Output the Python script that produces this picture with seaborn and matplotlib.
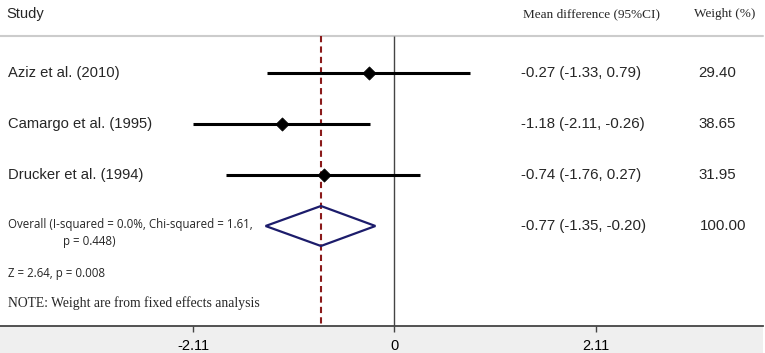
import numpy as np
import pandas as pd
import matplotlib
matplotlib.use("Agg")
import matplotlib.pyplot as plt
import seaborn as sns
from matplotlib.patches import Polygon, Rectangle
from matplotlib.transforms import blended_transform_factory

# DATA ===========================================================================================================

studies = ["Aziz et al. (2010)", "Camargo et al. (1995)", "Drucker et al. (1994)"]
mean_diff = [-0.27, -1.18, -0.74]
ci_low = [-1.33, -2.11, -1.76]
ci_high = [0.79, -0.26, 0.27]
weights = ["29.40", "38.65", "31.95"]
overall_md = -0.77
overall_low = -1.35
overall_high = -0.20
overall_weight = "100.00"
overall_label = "Overall (I-squared = 0.0%, Chi-squared = 1.61,"
overall_label2 = "p = 0.448)"
z_label = "Z = 2.64, p = 0.008"
note_label = "NOTE: Weight are from fixed effects analysis"
x_ticks = [-2.11, 0, 2.11]
x_ticklabels = ["-2.11", "0", "2.11"]

df = pd.DataFrame({"study": studies, "md": mean_diff, "lo": ci_low, "hi": ci_high, "w": weights})
df["row"] = np.arange(len(df))

# PLOT ===========================================================================================================

sns.set_style("white")
plt.rcParams["font.family"] = ["Liberation Sans", "DejaVu Sans"]
W, H = 765, 353
fig = plt.figure(figsize=(W / 100, H / 100), dpi=100)
axis_px = 326
ax = fig.add_axes([0, (H - axis_px) / H, 1, axis_px / H])
ax.set_zorder(2)
band = Rectangle((0, 0), 763 / W, (H - axis_px) / H, transform=fig.transFigure,
                 facecolor="#efefef", edgecolor="none", zorder=-5)
fig.patches.append(band)

x0, scale = 394.5, 95.5
ax.set_xlim((0 - x0) / scale, (W - x0) / scale)
row0, step = 73, 51
ax.set_ylim((axis_px - row0) / step, (0 - row0) / step)
header_y = (36 - row0) / step
bottom_y = (axis_px - row0) / step

ax.axhline(header_y, color="#cccccc", lw=1.5, xmax=763 / W)
ax.vlines(0, header_y, bottom_y, color="#444444", lw=1.0)
ax.vlines(overall_md, header_y, bottom_y, color="#8b1a1a", lw=1.5, linestyles=(0, (3, 2)))

ax.hlines(df["row"], df["lo"], df["hi"], color="black", lw=2.2, zorder=3)
sns.scatterplot(data=df, x="md", y="row", marker="D", color="black", s=45, edgecolor="black", ax=ax, zorder=4)

orow = len(df)
hh = 20 / step
diamond = Polygon([(overall_low, orow), (overall_md, orow - hh), (overall_high, orow), (overall_md, orow + hh)],
                  closed=True, fill=False, edgecolor="#1c1c6b", lw=1.6, zorder=4)
ax.add_patch(diamond)

tr = blended_transform_factory(ax.transAxes, ax.transData)
def yy(p):
    return (p - row0) / step

ax.text(6 / W, yy(14), "Study", transform=tr, fontsize=10.5, va="center", ha="left")
ax.text(523 / W, yy(14), "Mean difference (95%CI)", transform=tr, fontsize=9.5, va="center",
        ha="left", family="Liberation Serif")
ax.text(694 / W, yy(14), "Weight (%)", transform=tr, fontsize=9.5, va="center", ha="left",
        family="Liberation Serif")

for _, r in df.iterrows():
    ax.text(8 / W, r["row"], r["study"], transform=tr, fontsize=10.6, va="center", ha="left")
    ax.text(521 / W, r["row"], f"{r['md']:.2f} ({r['lo']:.2f}, {r['hi']:.2f})", transform=tr,
            fontsize=10.8, va="center", ha="left")
    ax.text(717 / W, r["row"], r["w"], transform=tr, fontsize=10.8, va="center", ha="center")

ax.text(521 / W, orow, f"{overall_md:.2f} ({overall_low:.2f}, {overall_high:.2f})", transform=tr,
        fontsize=10.8, va="center", ha="left")
ax.text(723 / W, orow, overall_weight, transform=tr, fontsize=10.8, va="center", ha="center")
ax.text(8 / W, yy(225), overall_label, transform=tr, fontsize=8.3, va="center", ha="left", family="Open Sans")
ax.text(63 / W, yy(242), overall_label2, transform=tr, fontsize=8.3, va="center", ha="left", family="Open Sans")
ax.text(8 / W, yy(273), z_label, transform=tr, fontsize=8.3, va="center", ha="left", family="Open Sans")
ax.text(8 / W, yy(303), note_label, transform=tr, fontsize=9.8, va="center", ha="left", family="Liberation Serif")

sns.despine(ax=ax, left=True, top=True, right=True)
ax.spines["bottom"].set_visible(True)
ax.spines["bottom"].set_color("#444444")
ax.spines["bottom"].set_linewidth(1.3)
ax.spines["bottom"].set_bounds((0 - x0) / scale, (763 - x0) / scale)
ax.set_yticks([])
ax.set_xticks(x_ticks)
ax.set_xticklabels(x_ticklabels)
ax.tick_params(axis="x", which="major", bottom=True, labelbottom=True, direction="out", length=4.5,
               width=1, color="#444444", labelsize=10.5, pad=5, labelcolor="black")
ax.set_xlabel("")
ax.set_ylabel("")
ax.set_facecolor("none")

plt.savefig("out.png", dpi=100)
